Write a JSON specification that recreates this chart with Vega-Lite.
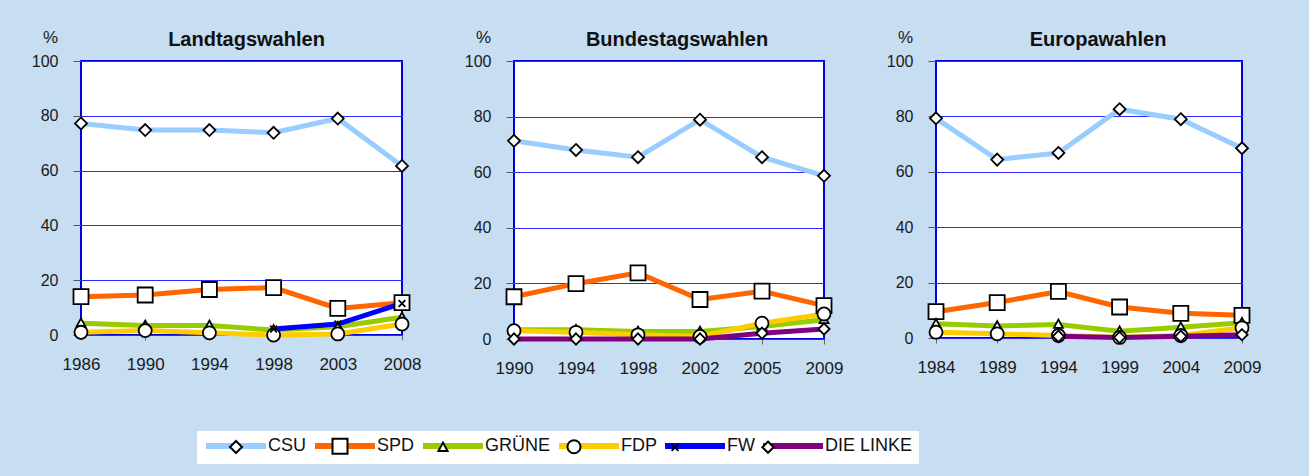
{
  "$schema": "https://vega.github.io/schema/vega-lite/v6.json",
  "background": "#c6ddf2",
  "padding": {"left": 30, "top": 27, "right": 49, "bottom": 15},
  "autosize": {"type": "pad"},
  "spacing": 112,
  "bounds": "flush",
  "config": {
    "view": {"stroke": "#0000e0", "strokeWidth": 2, "fill": "white"},
    "axis": {"labelFont": "Liberation Sans, Arial, sans-serif", "labelColor": "#1a1a1a", "titleFont": "Liberation Sans, Arial, sans-serif", "titleColor": "#1a1a1a"},
    "axisX": {"title": null, "labelAngle": 0, "labelFontSize": 17, "domain": false, "grid": false, "tickSize": 5, "tickColor": "#666666", "labelPadding": 16, "labelOverlap": false, "labelFlush": false},
    "axisY": {"titleAngle": 0, "titleX": -31, "titleY": -24, "titleAlign": "center", "titleBaseline": "middle", "titleFontSize": 17, "titleFontWeight": "normal", "labelFontSize": 16, "grid": true, "gridColor": "#2a2aff", "gridWidth": 1, "domain": false, "tickSize": 8, "tickColor": "#555555", "labelPadding": 15},
    "title": {"font": "Liberation Sans, Arial, sans-serif", "fontSize": 20, "fontWeight": "bold", "color": "#111111", "anchor": "middle", "frame": "group"}
  },
  "datasets": {
    "land": [
      {"year": 1986, "party": "CSU", "value": 77.2}, {"year": 1990, "party": "CSU", "value": 74.8}, {"year": 1994, "party": "CSU", "value": 74.8}, {"year": 1998, "party": "CSU", "value": 73.8}, {"year": 2003, "party": "CSU", "value": 79.0}, {"year": 2008, "party": "CSU", "value": 61.7},
      {"year": 1986, "party": "SPD", "value": 14.0}, {"year": 1990, "party": "SPD", "value": 14.6}, {"year": 1994, "party": "SPD", "value": 16.6}, {"year": 1998, "party": "SPD", "value": 17.3}, {"year": 2003, "party": "SPD", "value": 9.7}, {"year": 2008, "party": "SPD", "value": 11.8},
      {"year": 1986, "party": "GRÜNE", "value": 4.3}, {"year": 1990, "party": "GRÜNE", "value": 3.5}, {"year": 1994, "party": "GRÜNE", "value": 3.5}, {"year": 1998, "party": "GRÜNE", "value": 1.8}, {"year": 2003, "party": "GRÜNE", "value": 3.0}, {"year": 2008, "party": "GRÜNE", "value": 6.5},
      {"year": 1986, "party": "FDP", "value": 1.0}, {"year": 1990, "party": "FDP", "value": 1.6}, {"year": 1994, "party": "FDP", "value": 0.8}, {"year": 1998, "party": "FDP", "value": 0.0}, {"year": 2003, "party": "FDP", "value": 0.4}, {"year": 2008, "party": "FDP", "value": 4.0},
      {"year": 1998, "party": "FW", "value": 2.2}, {"year": 2003, "party": "FW", "value": 4.0}, {"year": 2008, "party": "FW", "value": 11.5}
    ],
    "bund": [
      {"year": 1990, "party": "CSU", "value": 71.3}, {"year": 1994, "party": "CSU", "value": 68.0}, {"year": 1998, "party": "CSU", "value": 65.4}, {"year": 2002, "party": "CSU", "value": 78.9}, {"year": 2005, "party": "CSU", "value": 65.4}, {"year": 2009, "party": "CSU", "value": 58.7},
      {"year": 1990, "party": "SPD", "value": 15.2}, {"year": 1994, "party": "SPD", "value": 19.9}, {"year": 1998, "party": "SPD", "value": 23.8}, {"year": 2002, "party": "SPD", "value": 14.2}, {"year": 2005, "party": "SPD", "value": 17.2}, {"year": 2009, "party": "SPD", "value": 12.0},
      {"year": 1990, "party": "GRÜNE", "value": 3.3}, {"year": 1994, "party": "GRÜNE", "value": 3.3}, {"year": 1998, "party": "GRÜNE", "value": 2.7}, {"year": 2002, "party": "GRÜNE", "value": 2.7}, {"year": 2005, "party": "GRÜNE", "value": 4.5}, {"year": 2009, "party": "GRÜNE", "value": 6.9},
      {"year": 1990, "party": "FDP", "value": 3.0}, {"year": 1994, "party": "FDP", "value": 2.4}, {"year": 1998, "party": "FDP", "value": 1.5}, {"year": 2002, "party": "FDP", "value": 0.9}, {"year": 2005, "party": "FDP", "value": 5.7}, {"year": 2009, "party": "FDP", "value": 9.0},
      {"year": 1990, "party": "DIE LINKE", "value": 0.0}, {"year": 1994, "party": "DIE LINKE", "value": 0.0}, {"year": 1998, "party": "DIE LINKE", "value": 0.0}, {"year": 2002, "party": "DIE LINKE", "value": 0.0}, {"year": 2005, "party": "DIE LINKE", "value": 2.1}, {"year": 2009, "party": "DIE LINKE", "value": 3.6}
    ],
    "euro": [
      {"year": 1984, "party": "CSU", "value": 79.3}, {"year": 1989, "party": "CSU", "value": 64.4}, {"year": 1994, "party": "CSU", "value": 66.8}, {"year": 1999, "party": "CSU", "value": 82.6}, {"year": 2004, "party": "CSU", "value": 79.0}, {"year": 2009, "party": "CSU", "value": 68.5},
      {"year": 1984, "party": "SPD", "value": 9.5}, {"year": 1989, "party": "SPD", "value": 12.8}, {"year": 1994, "party": "SPD", "value": 16.8}, {"year": 1999, "party": "SPD", "value": 11.2}, {"year": 2004, "party": "SPD", "value": 8.9}, {"year": 2009, "party": "SPD", "value": 8.2},
      {"year": 1984, "party": "GRÜNE", "value": 5.1}, {"year": 1989, "party": "GRÜNE", "value": 4.3}, {"year": 1994, "party": "GRÜNE", "value": 4.9}, {"year": 1999, "party": "GRÜNE", "value": 2.4}, {"year": 2004, "party": "GRÜNE", "value": 3.9}, {"year": 2009, "party": "GRÜNE", "value": 5.5},
      {"year": 1984, "party": "FDP", "value": 2.1}, {"year": 1989, "party": "FDP", "value": 1.5}, {"year": 1994, "party": "FDP", "value": 0.9}, {"year": 1999, "party": "FDP", "value": 0.2}, {"year": 2004, "party": "FDP", "value": 0.9}, {"year": 2009, "party": "FDP", "value": 3.7},
      {"year": 1994, "party": "DIE LINKE", "value": 0.6}, {"year": 1999, "party": "DIE LINKE", "value": 0.2}, {"year": 2004, "party": "DIE LINKE", "value": 0.6}, {"year": 2009, "party": "DIE LINKE", "value": 1.2}
    ]
  },
  "hconcat": [
    {
      "width": 321, "height": 274,
      "title": {"text": "Landtagswahlen", "dx": 5, "offset": -22},
      "data": {"name": "land"},
      "encoding": {
        "x": {"field": "year", "type": "ordinal", "scale": {"type": "point", "padding": 0}},
        "y": {"field": "value", "type": "quantitative", "scale": {"domain": [0, 100]}, "axis": {"title": "%", "values": [0, 20, 40, 60, 80, 100]}}
      },
      "layer": [
        {"mark": {"type": "line", "strokeWidth": 5},
         "encoding": {"color": {"field": "party", "type": "nominal",
            "scale": {"domain": ["CSU", "SPD", "GRÜNE", "FDP", "FW", "DIE LINKE"], "range": ["#99ccff", "#ff6600", "#99cc00", "#ffcc00", "#0000ff", "#800080"]},
            "legend": {"title": null, "orient": "none", "legendX": 116, "legendY": 370, "direction": "horizontal", "columns": 6, "symbolType": "M-6,0H6", "symbolSize": 100, "symbolStrokeWidth": 6, "symbolOffset": 24, "symbolOpacity": 1, "labelFont": "Liberation Sans, Arial, sans-serif", "labelFontSize": 18, "labelColor": "#111111", "labelOffset": 23, "columnPadding": -4, "padding": 6, "fillColor": "white"}}}},
        {"mark": {"type": "point", "size": 225, "strokeWidth": 1.8, "opacity": 1},
         "encoding": {"fill": {"value": "white"}, "stroke": {"value": "black"},
            "shape": {"field": "party", "type": "nominal", "sort": ["CSU", "SPD", "GRÜNE", "FDP", "FW", "DIE LINKE"],
            "scale": {"range": ["M0,-0.8L0.8,0L0,0.8L-0.8,0Z", "M-1,-1L1,-1L1,1L-1,1Z", "M0,-0.65L0.6,0.45L-0.6,0.45Z", "M-0.87,0A0.87,0.87,0,1,0,0.87,0A0.87,0.87,0,1,0,-0.87,0Z", "M-0.45,-0.45L0.45,0.45M-0.45,0.45L0.45,-0.45", "M0,-0.75L0.75,0L0,0.75L-0.75,0Z"]},
            "legend": {"title": null, "orient": "none", "legendX": 116, "legendY": 370, "direction": "horizontal", "columns": 6, "symbolSize": 225, "symbolStrokeWidth": 2, "symbolOffset": 24, "symbolOpacity": 1, "labelFont": "Liberation Sans, Arial, sans-serif", "labelFontSize": 18, "labelOpacity": 0, "labelOffset": 23, "columnPadding": -4, "padding": 6}}}}
      ]
    },
    {
      "width": 310, "height": 278,
      "title": {"text": "Bundestagswahlen", "dx": 8, "offset": -22},
      "data": {"name": "bund"},
      "encoding": {
        "x": {"field": "year", "type": "ordinal", "scale": {"type": "point", "padding": 0}},
        "y": {"field": "value", "type": "quantitative", "scale": {"domain": [0, 100]}, "axis": {"title": "%", "values": [0, 20, 40, 60, 80, 100]}}
      },
      "layer": [
        {"mark": {"type": "line", "strokeWidth": 5},
         "encoding": {"color": {"field": "party", "type": "nominal",
            "scale": {"domain": ["CSU", "SPD", "GRÜNE", "FDP", "FW", "DIE LINKE"], "range": ["#99ccff", "#ff6600", "#99cc00", "#ffcc00", "#0000ff", "#800080"]},
            "legend": {"title": null, "orient": "none", "legendX": 116, "legendY": 370, "direction": "horizontal", "columns": 6, "symbolType": "M-6,0H6", "symbolSize": 100, "symbolStrokeWidth": 6, "symbolOffset": 24, "symbolOpacity": 1, "labelFont": "Liberation Sans, Arial, sans-serif", "labelFontSize": 18, "labelColor": "#111111", "labelOffset": 23, "columnPadding": -4, "padding": 6, "fillColor": "white"}}}},
        {"mark": {"type": "point", "size": 225, "strokeWidth": 1.8, "opacity": 1},
         "encoding": {"fill": {"value": "white"}, "stroke": {"value": "black"},
            "shape": {"field": "party", "type": "nominal", "sort": ["CSU", "SPD", "GRÜNE", "FDP", "FW", "DIE LINKE"],
            "scale": {"range": ["M0,-0.8L0.8,0L0,0.8L-0.8,0Z", "M-1,-1L1,-1L1,1L-1,1Z", "M0,-0.65L0.6,0.45L-0.6,0.45Z", "M-0.87,0A0.87,0.87,0,1,0,0.87,0A0.87,0.87,0,1,0,-0.87,0Z", "M-0.45,-0.45L0.45,0.45M-0.45,0.45L0.45,-0.45", "M0,-0.75L0.75,0L0,0.75L-0.75,0Z"]},
            "legend": {"title": null, "orient": "none", "legendX": 116, "legendY": 370, "direction": "horizontal", "columns": 6, "symbolSize": 225, "symbolStrokeWidth": 2, "symbolOffset": 24, "symbolOpacity": 1, "labelFont": "Liberation Sans, Arial, sans-serif", "labelFontSize": 18, "labelOpacity": 0, "labelOffset": 23, "columnPadding": -4, "padding": 6}}}}
      ]
    },
    {
      "width": 306, "height": 277,
      "title": {"text": "Europawahlen", "dx": 9, "offset": -22},
      "data": {"name": "euro"},
      "encoding": {
        "x": {"field": "year", "type": "ordinal", "scale": {"type": "point", "padding": 0}},
        "y": {"field": "value", "type": "quantitative", "scale": {"domain": [0, 100]}, "axis": {"title": "%", "values": [0, 20, 40, 60, 80, 100]}}
      },
      "layer": [
        {"mark": {"type": "line", "strokeWidth": 5},
         "encoding": {"color": {"field": "party", "type": "nominal",
            "scale": {"domain": ["CSU", "SPD", "GRÜNE", "FDP", "FW", "DIE LINKE"], "range": ["#99ccff", "#ff6600", "#99cc00", "#ffcc00", "#0000ff", "#800080"]},
            "legend": {"title": null, "orient": "none", "legendX": 116, "legendY": 370, "direction": "horizontal", "columns": 6, "symbolType": "M-6,0H6", "symbolSize": 100, "symbolStrokeWidth": 6, "symbolOffset": 24, "symbolOpacity": 1, "labelFont": "Liberation Sans, Arial, sans-serif", "labelFontSize": 18, "labelColor": "#111111", "labelOffset": 23, "columnPadding": -4, "padding": 6, "fillColor": "white"}}}},
        {"mark": {"type": "point", "size": 225, "strokeWidth": 1.8, "opacity": 1},
         "encoding": {"fill": {"value": "white"}, "stroke": {"value": "black"},
            "shape": {"field": "party", "type": "nominal", "sort": ["CSU", "SPD", "GRÜNE", "FDP", "FW", "DIE LINKE"],
            "scale": {"range": ["M0,-0.8L0.8,0L0,0.8L-0.8,0Z", "M-1,-1L1,-1L1,1L-1,1Z", "M0,-0.65L0.6,0.45L-0.6,0.45Z", "M-0.87,0A0.87,0.87,0,1,0,0.87,0A0.87,0.87,0,1,0,-0.87,0Z", "M-0.45,-0.45L0.45,0.45M-0.45,0.45L0.45,-0.45", "M0,-0.75L0.75,0L0,0.75L-0.75,0Z"]},
            "legend": {"title": null, "orient": "none", "legendX": 116, "legendY": 370, "direction": "horizontal", "columns": 6, "symbolSize": 225, "symbolStrokeWidth": 2, "symbolOffset": 24, "symbolOpacity": 1, "labelFont": "Liberation Sans, Arial, sans-serif", "labelFontSize": 18, "labelOpacity": 0, "labelOffset": 23, "columnPadding": -4, "padding": 6}}}}
      ]
    }
  ]
}
